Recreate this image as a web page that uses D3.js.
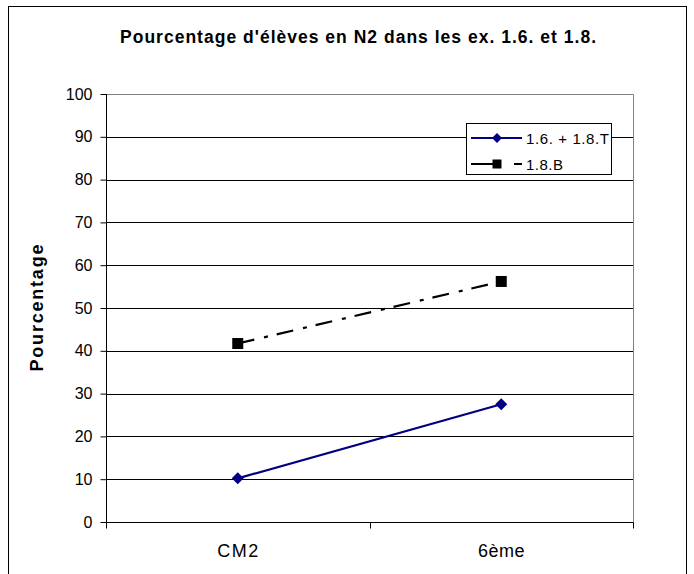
<!DOCTYPE html>
<html><head><meta charset="utf-8">
<script src="https://cdn.jsdelivr.net/npm/d3@7/dist/d3.min.js"></script>
<style>body{margin:0;background:#fff}</style>
</head><body>
<script>
const title = "Pourcentage d'élèves en N2 dans les ex. 1.6. et 1.8.";
const yTitle = "Pourcentage";
const categories = ["CM2", "6ème"];
const seriesNames = ["1.6. + 1.8.T", "1.8.B"];
const seriesA = [10.2, 27.5];
const seriesB = [41.7, 56.2];
const yTicks = [0, 10, 20, 30, 40, 50, 60, 70, 80, 90, 100];

const W = 694, H = 574;
const FONT = "Arial, 'Liberation Sans', sans-serif";
const svg = d3.select("body").append("svg").attr("width", W).attr("height", H)
  .style("font-family", FONT);

// outer frame
svg.append("rect").attr("x", 8.5).attr("y", 6.5).attr("width", 678).attr("height", 600)
  .attr("fill", "#fff").attr("stroke", "#000").attr("stroke-width", 1);

const L = 106, R = 633, T = 94, B = 522;
const x = d3.scaleBand().domain(categories).range([L, R]);
const y = d3.scaleLinear().domain([0, 100]).range([B, T]);

svg.append("text").attr("x", 358).attr("y", 43).attr("text-anchor", "middle")
  .attr("font-weight", "bold").attr("font-size", 17.5)
  .attr("textLength", 476).attr("lengthAdjust", "spacing").text(title);

// gridlines
svg.append("g").selectAll("line").data(yTicks.filter(d => d > 0 && d < 100)).join("line")
  .attr("x1", L).attr("x2", R).attr("y1", d => Math.round(y(d)) + 0.5).attr("y2", d => Math.round(y(d)) + 0.5)
  .attr("stroke", "#000").attr("stroke-width", 1);
// plot border top/right
svg.append("path").attr("d", `M${L},${T + 0.5}H${R + 0.5}V${B}`).attr("fill", "none")
  .attr("stroke", "#808080").attr("stroke-width", 1);

// y axis
const yAxis = d3.axisLeft(y).tickValues(yTicks).tickSize(6).tickPadding(8);
const gy = svg.append("g").attr("transform", `translate(${L + 0.5},0)`).call(yAxis);
gy.select(".domain").attr("d", `M0,${T}V${B}`).attr("stroke", "#000");
gy.selectAll(".tick line").attr("stroke", "#000");
gy.selectAll(".tick text").attr("font-size", 16).attr("fill", "#000").style("font-family", FONT);

// x axis
const xAxis = d3.axisBottom(x).tickSize(0).tickPadding(22);
const gx = svg.append("g").attr("transform", `translate(0,${B + 0.5})`).call(xAxis);
gx.select(".domain").attr("d", `M${L},0H${R + 0.5}`).attr("stroke", "#000");
const xLabelLen = {"CM2": 41, "6ème": 46.5};
gx.selectAll(".tick text").attr("font-size", 18).attr("fill", "#000").style("font-family", FONT)
  .attr("textLength", d => xLabelLen[d]).attr("lengthAdjust", "spacing");
const bounds = [L, (L + R) / 2, R];
gx.selectAll(".sep").data(bounds).join("line").attr("class", "sep")
  .attr("x1", d => Math.round(d) + 0.5).attr("x2", d => Math.round(d) + 0.5)
  .attr("y1", 0).attr("y2", 6).attr("stroke", "#000");

// y title
svg.append("text").attr("transform", `translate(43,${(T + B) / 2}) rotate(-90)`)
  .attr("text-anchor", "middle").attr("font-weight", "bold").attr("font-size", 18)
  .attr("textLength", 127).attr("lengthAdjust", "spacing").text(yTitle);

const cx = d => x(d) + x.bandwidth() / 2;
const line = d3.line().x(d => cx(d[0])).y(d => y(d[1]));
const dataA = categories.map((c, i) => [c, seriesA[i]]);
const dataB = categories.map((c, i) => [c, seriesB[i]]);

const blue = "#000080";
const dash = "17,10,4,9";
svg.append("path").datum(dataB).attr("d", line).attr("fill", "none")
  .attr("stroke", "#000").attr("stroke-width", 2.2).attr("stroke-dasharray", dash);
svg.append("path").datum(dataA).attr("d", line).attr("fill", "none")
  .attr("stroke", blue).attr("stroke-width", 2.2);

const diamond = (g, px, py, s) => g.append("path")
  .attr("d", `M${px},${py - s}L${px + s},${py}L${px},${py + s}L${px - s},${py}Z`).attr("fill", blue);
const square = (g, px, py, s) => g.append("rect")
  .attr("x", px - s).attr("y", py - s).attr("width", 2 * s).attr("height", 2 * s).attr("fill", "#000");

dataA.forEach(d => diamond(svg, cx(d[0]), y(d[1]), 6));
dataB.forEach(d => square(svg, cx(d[0]), y(d[1]), 5.5));

// legend
const lg = svg.append("g");
lg.append("rect").attr("x", 466.5).attr("y", 123.5).attr("width", 145).attr("height", 51)
  .attr("fill", "#fff").attr("stroke", "#000");
lg.append("line").attr("x1", 471).attr("x2", 522).attr("y1", 138).attr("y2", 138)
  .attr("stroke", blue).attr("stroke-width", 2.2);
diamond(lg, 497, 138, 5);
lg.append("line").attr("x1", 471).attr("x2", 522).attr("y1", 164).attr("y2", 164)
  .attr("stroke", "#000").attr("stroke-width", 2.2).attr("stroke-dasharray", "30,13,9");
square(lg, 497, 164, 4.5);
const legLen = [83, 37];
lg.selectAll("text.lt").data(seriesNames).join("text").attr("class", "lt")
  .attr("x", 526).attr("y", (d, i) => 138 + i * 26 + 5.5).attr("font-size", 15)
  .attr("textLength", (d, i) => legLen[i]).attr("lengthAdjust", "spacing").text(d => d);
</script>
</body></html>
